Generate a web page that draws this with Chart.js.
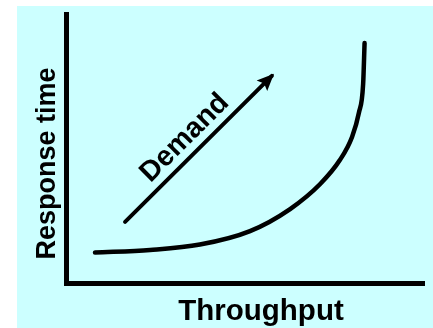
<!DOCTYPE html>
<html>
<head>
<meta charset="utf-8">
<script src="https://cdn.jsdelivr.net/npm/chart.js@4"></script>
<style>
  html, body { margin: 0; padding: 0; background: #ffffff; }
  canvas { display: block; }
</style>
</head>
<body>
<canvas id="c" width="433" height="328"></canvas>
<script>
// ---- data ----
const throughput   = [8.1, 23.5, 37.4, 51.4, 62.6, 71.0, 76.5, 79.9, 81.8, 83.0, 83.4];
const responseTime = [11.3, 12.3, 14.3, 19.3, 27.5, 36.8, 45.7, 54.3, 63.2, 74.0, 89.2];
const demandX = [16.5, 57.5];
const demandY = [22.7, 77.0];
const xTitle = 'Throughput';
const yTitle = 'Response time';
const arrowLabel = 'Demand';

const FONT = '"Liberation Sans", Arial, sans-serif';

const curvePoints = throughput.map((x, i) => ({ x: x, y: responseTime[i] }));
const arrowPoints = demandX.map((x, i) => ({ x: x, y: demandY[i] }));

const backgroundPlugin = {
  id: 'panelBackground',
  beforeDraw(chart) {
    const ctx = chart.ctx;
    ctx.save();
    ctx.fillStyle = '#ffffff';
    ctx.fillRect(0, 0, chart.width, chart.height);
    ctx.fillStyle = '#CCFFFF';
    ctx.fillRect(17, 6, chart.width - 17, chart.height - 6);
    ctx.restore();
  }
};

const decorPlugin = {
  id: 'decor',
  afterDatasetsDraw(chart) {
    const ctx = chart.ctx;
    const area = chart.chartArea;
    const meta = chart.getDatasetMeta(1);
    const p0 = meta.data[0], p1 = meta.data[meta.data.length - 1];
    const dx = p1.x - p0.x, dy = p1.y - p0.y;
    const len = Math.hypot(dx, dy);
    const ux = dx / len, uy = dy / len;
    const nx = uy, ny = -ux; // normal pointing up-left
    ctx.save();
    // arrow head
    const tipX = p1.x + ux * 3, tipY = p1.y + uy * 3;
    const headLen = 17, headHalf = 7.5;
    ctx.fillStyle = '#000';
    ctx.beginPath();
    ctx.moveTo(tipX, tipY);
    ctx.lineTo(tipX - ux * headLen + nx * headHalf, tipY - uy * headLen + ny * headHalf);
    ctx.lineTo(tipX - ux * headLen * 0.82, tipY - uy * headLen * 0.82);
    ctx.lineTo(tipX - ux * headLen - nx * headHalf, tipY - uy * headLen - ny * headHalf);
    ctx.closePath();
    ctx.fill();
    // label along the arrow
    const t = 0.49 * len;
    const bx = p0.x + ux * t + nx * 9.5;
    const by = p0.y + uy * t + ny * 9.5;
    ctx.translate(bx, by);
    ctx.rotate(Math.atan2(dy, dx));
    ctx.font = 'bold 28.5px ' + FONT;
    ctx.textAlign = 'center';
    ctx.textBaseline = 'alphabetic';
    ctx.fillText(arrowLabel, 0, 0);
    ctx.restore();

    // axis titles
    ctx.save();
    ctx.fillStyle = '#000';
    ctx.font = 'bold 29.5px ' + FONT;
    ctx.textAlign = 'center';
    ctx.textBaseline = 'alphabetic';
    ctx.fillText(xTitle, area.left + 195, area.bottom + 37);
    ctx.translate(area.left - 11, area.top + 149.5);
    ctx.rotate(-Math.PI / 2);
    ctx.font = 'bold 27px ' + FONT;
    ctx.fillText(yTitle, 0, 0);
    ctx.restore();
  }
};

new Chart(document.getElementById('c'), {
  type: 'line',
  data: {
    datasets: [
      {
        data: curvePoints,
        cubicInterpolationMode: 'monotone',
        borderColor: '#000',
        borderWidth: 4.5,
        borderCapStyle: 'round',
        borderJoinStyle: 'round',
        pointRadius: 0,
        fill: false
      },
      {
        data: arrowPoints,
        borderColor: '#000',
        borderWidth: 4,
        borderCapStyle: 'round',
        pointRadius: 0,
        tension: 0,
        fill: false
      }
    ]
  },
  options: {
    responsive: false,
    animation: false,
    devicePixelRatio: 1,
    layout: { padding: { left: 66, right: 9, top: 14, bottom: 45 } },
    plugins: { legend: { display: false }, tooltip: { enabled: false }, title: { display: false } },
    scales: {
      x: {
        type: 'linear', min: 0, max: 100,
        ticks: { display: false },
        grid: { display: false, drawTicks: false },
        border: { display: true, width: 5, color: '#000' }
      },
      y: {
        type: 'linear', min: 0, max: 100,
        ticks: { display: false },
        grid: { display: false, drawTicks: false },
        border: { display: true, width: 5, color: '#000' }
      }
    }
  },
  plugins: [backgroundPlugin, decorPlugin]
});
</script>
</body>
</html>
